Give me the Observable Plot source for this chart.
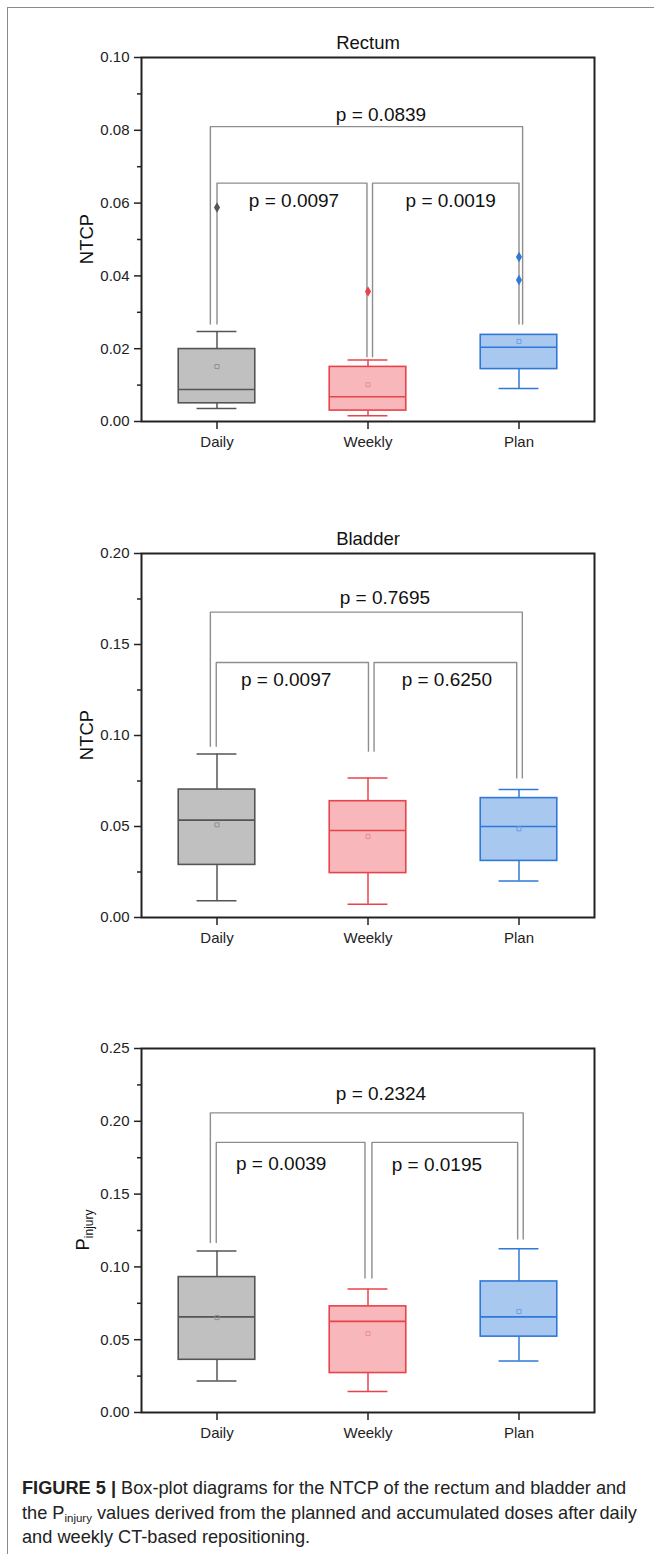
<!DOCTYPE html>
<html>
<head>
<meta charset="utf-8">
<script src="https://cdn.jsdelivr.net/npm/d3@7"></script>
<script src="https://cdn.jsdelivr.net/npm/@observablehq/plot@0.6"></script>
<style>
  html, body { margin: 0; padding: 0; background: #fff; }
  #page { position: relative; width: 654px; height: 1554px; overflow: hidden; background: #fff; font-family: "Liberation Sans", Arial, sans-serif; }
  #border { position: absolute; left: 7px; top: 7px; width: 660px; height: 1560px; border-left: 1.5px solid #8a8a8a; border-top: 1.5px solid #8a8a8a; }
  .panel { position: absolute; left: 0; }
  #caption { position: absolute; left: 22px; top: 1476px; font-size: 18.2px; line-height: 24.5px; color: #222; white-space: nowrap; }
  #caption b { font-weight: bold; }
  #caption sub { font-size: 11.5px; vertical-align: -3px; line-height: 0; }
</style>
</head>
<body>
<div id="page">
  <div id="border"></div>
  <div id="p0" class="panel" style="top:0px"></div>
  <div id="p1" class="panel" style="top:495.5px"></div>
  <div id="p2" class="panel" style="top:991px"></div>
  <div id="caption">
    <div><b>FIGURE 5 |</b> Box-plot diagrams for the NTCP of the rectum and bladder and</div>
    <div>the P<sub>injury</sub> values derived from the planned and accumulated doses after daily</div>
    <div>and weekly CT-based repositioning.</div>
  </div>
</div>
<script>
// ---------- data ----------
const categories = ["Daily", "Weekly", "Plan"];
const boxFill = ["#c0c0c0", "#f7b7bb", "#a9c8ef"];
const boxStroke = ["#555555", "#e8434b", "#2f78d8"];
const meanStroke = ["#8f8f8f", "#ee8a90", "#6d9fe2"];

// Rectum (NTCP)
const rectumTitle = "Rectum";
const rectumYLabel = "NTCP";
const rectumYMax = 0.10;
const rectumMajorTicks = [0, 0.02, 0.04, 0.06, 0.08, 0.10];
const rectumMinorTicks = [0.01, 0.03, 0.05, 0.07, 0.09];
const rectumWhiskerLow = [0.0036, 0.0016, 0.0091];
const rectumQ1 = [0.0050, 0.0030, 0.0144];
const rectumMedian = [0.0088, 0.0068, 0.0204];
const rectumQ3 = [0.0199, 0.0150, 0.0238];
const rectumWhiskerHigh = [0.0247, 0.0169, 0.0238];
const rectumMean = [0.0151, 0.0101, 0.0220];
const rectumOutlierGroup = [0, 1, 2, 2];
const rectumOutlierValue = [0.0588, 0.0357, 0.0452, 0.0389];
const rectumBracketX1 = [-0.044, 0.0, 1.03];
const rectumBracketX2 = [2.024, 0.993, 2.0];
const rectumBracketTop = [0.0810, 0.0655, 0.0655];
const rectumBracketEndL = [0.0268, 0.0268, 0.0178];
const rectumBracketEndR = [0.0268, 0.0178, 0.0268];
const rectumPText = ["p = 0.0839", "p = 0.0097", "p = 0.0019"];
const rectumPX = [1.086, 0.51, 1.548];
const rectumPY = [0.0842, 0.0607, 0.0607];

// Bladder (NTCP)
const bladderTitle = "Bladder";
const bladderYLabel = "NTCP";
const bladderYMax = 0.20;
const bladderMajorTicks = [0, 0.05, 0.10, 0.15, 0.20];
const bladderMinorTicks = [0.025, 0.075, 0.125, 0.175];
const bladderWhiskerLow = [0.0092, 0.0073, 0.0200];
const bladderQ1 = [0.0289, 0.0244, 0.0311];
const bladderMedian = [0.0535, 0.0478, 0.0500];
const bladderQ3 = [0.0703, 0.0639, 0.0656];
const bladderWhiskerHigh = [0.0899, 0.0766, 0.0703];
const bladderMean = [0.0509, 0.0445, 0.0487];
const bladderOutlierGroup = [];
const bladderOutlierValue = [];
const bladderBracketX1 = [-0.044, -0.005, 1.04];
const bladderBracketX2 = [2.022, 1.003, 1.985];
const bladderBracketTop = [0.1678, 0.1401, 0.1401];
const bladderBracketEndL = [0.0941, 0.0941, 0.0914];
const bladderBracketEndR = [0.0767, 0.0914, 0.0767];
const bladderPText = ["p = 0.7695", "p = 0.0097", "p = 0.6250"];
const bladderPX = [1.112, 0.458, 1.522];
const bladderPY = [0.1756, 0.1304, 0.1304];

// P injury
const injuryTitle = "";
const injuryYLabel = "P|injury";
const injuryYMax = 0.25;
const injuryMajorTicks = [0, 0.05, 0.10, 0.15, 0.20, 0.25];
const injuryMinorTicks = [0.025, 0.075, 0.125, 0.175, 0.225];
const injuryWhiskerLow = [0.0217, 0.0145, 0.0353];
const injuryQ1 = [0.0362, 0.0271, 0.0521];
const injuryMedian = [0.0657, 0.0626, 0.0657];
const injuryQ3 = [0.0930, 0.0729, 0.0900];
const injuryWhiskerHigh = [0.1110, 0.0848, 0.1124];
const injuryMean = [0.0652, 0.0542, 0.0694];
const injuryOutlierGroup = [];
const injuryOutlierValue = [];
const injuryBracketX1 = [-0.044, -0.005, 1.026];
const injuryBracketX2 = [2.028, 0.98, 1.991];
const injuryBracketTop = [0.2058, 0.1855, 0.1855];
const injuryBracketEndL = [0.1168, 0.1168, 0.0923];
const injuryBracketEndR = [0.1192, 0.0923, 0.1192];
const injuryPText = ["p = 0.2324", "p = 0.0039", "p = 0.0195"];
const injuryPX = [1.086, 0.425, 1.456];
const injuryPY = [0.2187, 0.1710, 0.1699];

// ---------- styling constants ----------
const BOX_HALF = 0.2535;
const CAP_HALF = 0.132;
const W = 654, H = 496, ML = 141, MR = 60, MT = 57, MB = 75;
const FONT = "'Liberation Sans', Arial, sans-serif";

function panel(cfg) {
  const rows = categories.map((c, i) => ({
    i, c,
    wl: cfg.wl[i], q1: cfg.q1[i], med: cfg.med[i], q3: cfg.q3[i], wh: cfg.wh[i], mean: cfg.mean[i],
    fill: boxFill[i], stroke: boxStroke[i], meanStroke: meanStroke[i]
  }));
  const outliers = cfg.og.map((g, k) => ({x: g, y: cfg.ov[k], color: boxStroke[g]}));
  const bracketPts = [];
  cfg.bx1.forEach((x1, j) => {
    const x2 = cfg.bx2[j];
    bracketPts.push({id: j, x: x1, y: cfg.bl[j]});
    bracketPts.push({id: j, x: x1, y: cfg.bt[j]});
    bracketPts.push({id: j, x: x2, y: cfg.bt[j]});
    bracketPts.push({id: j, x: x2, y: cfg.br[j]});
  });
  const ptexts = cfg.pt.map((t, j) => ({t, x: cfg.px[j], y: cfg.py[j]}));

  const marks = [
    Plot.line(bracketPts, {x: "x", y: "y", z: "id", stroke: "#8e8e8e", strokeWidth: 1.4}),
    Plot.text(ptexts, {x: "x", y: "y", text: "t", fontSize: 19, fill: "#111", fontFamily: FONT}),
    Plot.ruleX(rows, {x: "i", y1: "q3", y2: "wh", stroke: "stroke", strokeWidth: 1.5}),
    Plot.ruleX(rows, {x: "i", y1: "wl", y2: "q1", stroke: "stroke", strokeWidth: 1.5}),
    Plot.ruleY(rows, {x1: d => d.i - CAP_HALF, x2: d => d.i + CAP_HALF, y: "wh", stroke: "stroke", strokeWidth: 1.5}),
    Plot.ruleY(rows, {x1: d => d.i - CAP_HALF, x2: d => d.i + CAP_HALF, y: "wl", stroke: "stroke", strokeWidth: 1.5}),
    Plot.rect(rows, {x1: d => d.i - BOX_HALF, x2: d => d.i + BOX_HALF, y1: "q1", y2: "q3", fill: "fill", stroke: "stroke", strokeWidth: 1.6}),
    Plot.ruleY(rows, {x1: d => d.i - BOX_HALF, x2: d => d.i + BOX_HALF, y: "med", stroke: "stroke", strokeWidth: 1.6}),
    Plot.dot(rows, {x: "i", y: "mean", symbol: "square", r: 2.3, fill: "none", stroke: "meanStroke", strokeWidth: 1}),
    Plot.dot(outliers, {x: "x", y: "y", symbol: "diamond", r: 3.2, fill: "color", stroke: "none"}),
    Plot.axisY({ticks: cfg.major, tickSize: 7, tickPadding: 5, tickFormat: d => d.toFixed(2), fontSize: 15, stroke: "#222", strokeWidth: 1.5, fill: "#222", label: null}),
    Plot.axisY({ticks: cfg.minor, tickSize: 4, tickFormat: () => "", stroke: "#222", strokeWidth: 1.5, label: null}),
    Plot.axisX({ticks: [0, 1, 2], tickSize: 8, tickPadding: 7, tickFormat: i => categories[i], fontSize: 15, stroke: "#222", strokeWidth: 1.5, fill: "#222", label: null}),
    Plot.frame({stroke: "#222", strokeWidth: 2})
  ];
  if (cfg.title) {
    marks.push(Plot.text([cfg.title], {frameAnchor: "top", dy: -22, text: d => d, fontSize: 18.5, fill: "#111", fontFamily: FONT}));
  }
  const svg = Plot.plot({
    width: W, height: H,
    marginLeft: ML, marginRight: MR, marginTop: MT, marginBottom: MB,
    x: {type: "linear", domain: [-0.5, 2.5], axis: null},
    y: {type: "linear", domain: [0, cfg.ymax], axis: null},
    color: {type: "identity"},
    style: {fontFamily: FONT, fontSize: "15px", background: "transparent", overflow: "visible"},
    marks
  });
  // y-axis title (with optional subscript)
  const parts = cfg.ylabel.split("|");
  const cy = MT + (H - MT - MB) / 2;
  const t = d3.select(svg).append("text")
    .attr("transform", `translate(${cfg.labelX}, ${cy}) rotate(-90)`)
    .attr("text-anchor", "middle")
    .attr("dy", "0.36em")
    .attr("font-size", 18.5)
    .attr("font-family", FONT)
    .attr("fill", "#111");
  t.append("tspan").text(parts[0]);
  if (parts[1]) {
    t.append("tspan").attr("font-size", 12).attr("dy", "0.35em").text(parts[1]);
  }
  return svg;
}

document.getElementById("p0").appendChild(panel({
  title: rectumTitle, ylabel: rectumYLabel, ymax: rectumYMax, major: rectumMajorTicks, minor: rectumMinorTicks,
  wl: rectumWhiskerLow, q1: rectumQ1, med: rectumMedian, q3: rectumQ3, wh: rectumWhiskerHigh, mean: rectumMean,
  og: rectumOutlierGroup, ov: rectumOutlierValue,
  bx1: rectumBracketX1, bx2: rectumBracketX2, bt: rectumBracketTop, bl: rectumBracketEndL, br: rectumBracketEndR,
  pt: rectumPText, px: rectumPX, py: rectumPY, labelX: 86
}));
document.getElementById("p1").appendChild(panel({
  title: bladderTitle, ylabel: bladderYLabel, ymax: bladderYMax, major: bladderMajorTicks, minor: bladderMinorTicks,
  wl: bladderWhiskerLow, q1: bladderQ1, med: bladderMedian, q3: bladderQ3, wh: bladderWhiskerHigh, mean: bladderMean,
  og: bladderOutlierGroup, ov: bladderOutlierValue,
  bx1: bladderBracketX1, bx2: bladderBracketX2, bt: bladderBracketTop, bl: bladderBracketEndL, br: bladderBracketEndR,
  pt: bladderPText, px: bladderPX, py: bladderPY, labelX: 86
}));
document.getElementById("p2").appendChild(panel({
  title: injuryTitle, ylabel: injuryYLabel, ymax: injuryYMax, major: injuryMajorTicks, minor: injuryMinorTicks,
  wl: injuryWhiskerLow, q1: injuryQ1, med: injuryMedian, q3: injuryQ3, wh: injuryWhiskerHigh, mean: injuryMean,
  og: injuryOutlierGroup, ov: injuryOutlierValue,
  bx1: injuryBracketX1, bx2: injuryBracketX2, bt: injuryBracketTop, bl: injuryBracketEndL, br: injuryBracketEndR,
  pt: injuryPText, px: injuryPX, py: injuryPY, labelX: 82
}));
</script>
</body>
</html>
